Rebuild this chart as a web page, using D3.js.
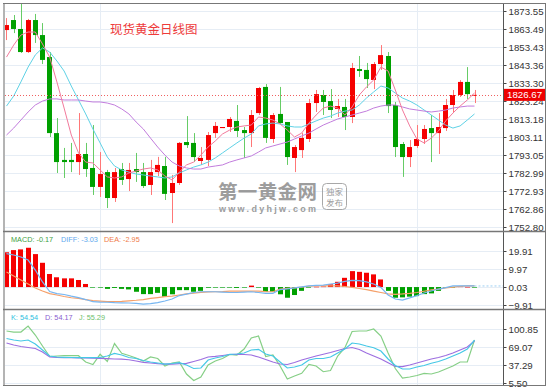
<!DOCTYPE html>
<html>
<head>
<meta charset="utf-8">
<script src="https://cdn.jsdelivr.net/npm/d3@7"></script>
<style>
  body { margin: 0; background: #fff; }
  svg { display: block; font-family: "Liberation Sans", Arial, sans-serif; }
</style>
</head>
<body>
<div id="chart"></div>
<script>
// daily candles
const openP = [1862.9,1868.5,1863.5,1850.6,1868.5,1860.1,1847.8,1805.3,1790.3,1790.3,
  1789.1,1793.6,1785.8,1775.2,1783.5,1769.0,1785.2,1779.6,1785.2,1783.5,
  1776.3,1783.5,1786.9,1771.8,1777.4,1800.3,1799.8,1789.7,1790.3,1805.3,
  1808.1,1808.7,1812.1,1807.0,1805.3,1816.5,1831.1,1802.0,1816.0,1811.5,
  1791.4,1795.8,1802.0,1822.1,1826.6,1823.2,1818.8,1819.9,1814.3,1841.1,
  1840.6,1835.0,1843.9,1848.4,1821.0,1799.2,1791.9,1798.1,1802.0,1808.1,
  1805.3,1808.1,1821.0,1826.6,1833.9,1826.3];
const highP = [1869.6,1871.3,1878.0,1869.1,1871.9,1866.8,1850.6,1813.7,1797.0,1799.8,
  1816.5,1799.8,1809.8,1794.7,1784.7,1785.8,1788.6,1788.6,1794.2,1788.6,
  1790.3,1792.0,1792.0,1781.9,1800.3,1814.8,1805.3,1797.5,1805.9,1811.5,
  1808.7,1814.3,1821.0,1808.7,1818.2,1831.1,1832.7,1816.5,1831.1,1811.5,
  1798.6,1805.3,1824.4,1829.4,1829.4,1829.9,1824.4,1824.4,1844.5,1848.4,
  1844.5,1845.0,1854.5,1850.6,1822.7,1800.3,1801.4,1809.8,1809.8,1815.4,
  1816.5,1824.4,1829.4,1834.9,1842.2,1829.4];
const lowP = [1857.3,1861.2,1850.1,1850.1,1855.7,1843.9,1803.1,1783.0,1780.2,1783.5,
  1781.9,1780.8,1770.7,1769.6,1763.4,1766.8,1776.3,1772.9,1778.0,1774.6,
  1770.7,1781.3,1767.9,1755.0,1776.3,1797.0,1789.1,1787.5,1786.9,1802.6,
  1808.1,1805.9,1803.1,1791.4,1797.5,1815.4,1799.8,1799.8,1810.4,1787.5,
  1783.5,1791.4,1800.3,1817.1,1815.4,1813.7,1814.3,1807.0,1810.9,1836.7,
  1830.5,1829.9,1840.6,1816.5,1791.9,1780.8,1786.3,1797.0,1799.2,1789.1,
  1793.6,1806.5,1816.5,1825.5,1824.4,1822.1];
const closeP = [1865.7,1863.5,1850.6,1868.5,1860.1,1846.2,1805.3,1789.1,1789.1,1789.1,
  1793.6,1785.2,1775.2,1782.4,1769.0,1783.5,1779.1,1784.7,1783.5,1775.7,
  1783.5,1787.5,1771.3,1777.4,1799.8,1798.6,1791.9,1791.4,1804.2,1809.3,
  1808.7,1813.2,1806.5,1805.3,1815.4,1830.5,1802.6,1815.4,1810.9,1791.9,
  1797.5,1802.6,1822.1,1827.1,1822.7,1818.2,1820.4,1814.3,1841.7,1840.0,
  1835.5,1843.9,1848.9,1820.4,1797.5,1791.9,1797.5,1802.0,1807.6,1805.3,
  1808.7,1821.0,1826.6,1833.9,1827.1,1826.67];

// moving averages (pink, cyan, purple)
const maPink = [1847.8,1854.5,1860.1,1861.8,1861.8,1855.1,1847.8,1833.9,1819.3,1804.2,
  1794.2,1789.1,1788.6,1784.7,1780.8,1780.2,1780.8,1783.0,1784.1,1785.2,
  1785.8,1784.7,1781.3,1779.1,1783.5,1787.5,1789.1,1793.0,1797.5,1800.9,
  1804.8,1807.0,1808.7,1809.3,1809.8,1814.3,1813.7,1812.6,1810.4,1807.0,
  1803.1,1805.3,1810.9,1815.4,1819.3,1820.4,1819.3,1815.4,1819.9,1826.6,
  1831.1,1835.0,1842.2,1840.0,1829.4,1818.2,1809.3,1802.0,1799.8,1802.5,
  1806.5,1812.1,1816.5,1820.4,1823.8,1827.7];
const maCyan = [1820.4,1826.0,1833.9,1842.2,1849.0,1852.9,1850.6,1845.6,1840.0,1831.6,
  1823.8,1816.0,1807.6,1799.8,1791.9,1786.9,1784.7,1783.5,1782.4,1781.9,
  1781.3,1780.8,1780.2,1780.8,1783.0,1784.7,1786.3,1787.5,1789.1,1791.4,
  1794.2,1797.0,1799.8,1802.5,1804.8,1809.3,1810.4,1810.9,1810.4,1809.3,
  1808.7,1808.7,1810.4,1812.1,1813.7,1814.8,1816.5,1817.6,1818.2,1821.0,
  1824.9,1828.3,1831.6,1830.5,1827.7,1824.9,1823.2,1821.0,1818.2,1815.4,
  1812.6,1809.8,1808.1,1809.3,1812.6,1816.0];
const maPurple = [1804.2,1808.1,1812.6,1817.1,1821.0,1823.2,1824.4,1824.4,1823.8,1823.8,
  1823.8,1823.2,1822.7,1822.7,1822.1,1821.0,1818.8,1816.0,1811.5,1807.6,
  1802.5,1797.5,1793.0,1789.1,1786.9,1785.8,1785.2,1785.2,1786.3,1786.9,
  1787.5,1789.1,1790.3,1791.4,1792.5,1794.7,1797.0,1798.1,1799.2,1800.3,
  1802.0,1803.7,1805.3,1807.6,1809.8,1811.5,1813.2,1814.3,1815.4,1816.5,
  1817.6,1819.3,1820.4,1821.0,1821.0,1819.9,1818.8,1818.2,1817.6,1817.1,
  1817.6,1818.2,1819.3,1819.9,1820.4,1820.4];

// MACD panel
const macdHist = [19.2,20.4,20.8,21.7,18.2,13.4,7.2,5.4,4.8,4.8,
  3.9,1.7,-0.2,-0.3,-1.0,-0.5,-1.0,-1.3,-2.6,-3.9,
  -3.9,-3.2,-5.3,-4.0,-1.7,-1.7,-2.6,-2.1,-0.4,-0.2,
  -0.2,-0.2,-0.5,-0.3,0.8,-0.3,-2.6,-2.6,-4.0,-5.9,
  -4.4,-2.1,-0.2,0.2,0.3,1.5,2.9,5.1,8.8,8.4,
  7.9,7.0,4.2,-2.1,-5.9,-5.7,-5.3,-5.0,-3.9,-3.5,
  -2.1,-0.3,-0.2,0.3,0.1,-0.17];
const diffLine = [18.5,17.7,16.6,14.9,9.4,2.8,-2.5,-3.6,-4.1,-5.0,
  -5.8,-6.9,-8.1,-8.3,-8.4,-8.6,-8.7,-8.8,-9.0,-9.4,
  -9.1,-8.6,-7.7,-6.6,-4.7,-3.9,-3.0,-2.6,-2.6,-2.6,
  -2.8,-3.0,-3.0,-2.8,-2.6,-3.0,-3.5,-3.5,-1.4,-1.0,
  -0.5,0.1,0.7,0.9,1.1,1.7,2.2,3.1,3.7,3.6,
  2.9,1.7,-0.2,-4.4,-6.6,-7.2,-6.0,-4.7,-3.3,-2.2,
  -1.1,-0.3,0.6,0.7,0.7,0.6];
const deaLine = [8.3,6.1,3.9,1.7,-0.5,-2.2,-3.6,-4.4,-5.2,-5.9,
  -6.3,-6.9,-7.5,-7.8,-8.1,-8.1,-7.9,-7.6,-7.3,-6.9,
  -6.3,-5.8,-5.3,-5.0,-4.4,-3.8,-3.3,-2.9,-2.7,-2.6,
  -2.5,-2.3,-2.3,-2.2,-2.2,-2.3,-2.5,-2.6,-1.1,-0.7,
  -0.4,0.0,0.5,0.6,0.7,0.7,0.7,0.3,-0.2,-0.8,
  -1.4,-2.2,-3.0,-3.8,-4.0,-3.8,-3.5,-3.0,-2.3,-1.6,
  -1.1,-0.5,0.0,0.4,0.7,0.7];

// KDJ panel
const kLine = [84.1,81.4,79.7,81.4,74.4,63.8,53.2,51.4,50.9,50.5,
  50.2,50.2,50.2,50.5,53.2,57.6,54.9,50.5,48.8,45.2,
  42.6,40.8,39.0,39.9,41.3,37.3,31.1,32.0,46.1,49.6,
  52.3,56.2,56.7,58.5,63.8,65.0,56.7,53.2,42.6,32.0,
  33.7,37.3,46.1,48.8,48.8,51.4,58.5,65.5,76.1,74.4,
  70.8,67.8,62.0,47.9,36.4,30.2,30.2,33.7,36.4,40.3,
  43.5,47.9,53.2,58.5,65.5,81.4];
const dLine = [76.1,72.6,69.9,68.2,66.4,60.2,51.4,50.5,50.3,50.2,
  50.0,49.6,49.5,49.1,48.6,47.9,47.5,46.6,44.3,41.9,
  40.8,39.6,38.7,39.0,39.6,40.3,43.5,47.0,51.4,52.6,
  54.1,55.8,56.2,55.8,54.9,51.4,47.0,42.6,39.0,38.2,
  41.7,46.1,49.6,53.2,56.2,59.3,62.9,66.4,68.2,64.6,
  58.5,53.2,47.9,41.3,34.6,34.3,37.3,40.8,44.3,47.9,
  50.5,54.1,58.5,63.8,69.1,79.7];
const jLine = [97.3,95.5,95.5,106.1,90.2,70.8,52.3,53.2,53.7,53.7,
  53.7,42.6,38.2,56.2,43.5,75.2,57.9,54.1,49.6,44.3,
  51.4,48.8,35.5,40.8,42.6,21.4,9.9,16.1,37.3,44.3,
  48.8,55.8,54.9,65.5,84.9,88.5,52.3,54.9,35.5,12.6,
  17.9,22.6,38.2,35.5,25.4,27.6,53.2,67.8,96.4,97.3,
  97.3,100.8,88.5,58.5,31.1,14.3,16.1,18.7,22.6,21.4,
  24.9,30.2,35.5,42.6,42.6,81.4];

const priceTicks = [1752.80,1762.86,1772.93,1782.99,1793.05,1803.11,1813.18,1823.24,1833.30,1843.36,1853.43,1863.49,1873.55];
const macdTicks = [-9.91,0.03,9.97,19.91];
const kdjTicks = [5.50,37.29,69.07,100.85];
const monthStarts = [13, 57];
const lastPrice = 1826.67;
const macdLegend = ["MACD: -0.17", "DIFF: -3.03", "DEA: -2.95"];
const kdjLegend = ["K: 54.54", "D: 54.17", "J: 55.29"];

const W = 550, H = 387;
const axisX = 503;
const RED = "#f50000", GREEN = "#00a000";

let svg = d3.select("#chart").append("svg")
  .attr("width", W).attr("height", H);

let n = closeP.length;
let x = d3.scaleBand().domain(d3.range(n)).range([2.9, 478.1])
  .paddingInner(0.3).paddingOuter(0.15);
const cx = i => x(i) + x.bandwidth() / 2;

let y = d3.scaleLinear().domain([1752.80, 1873.55]).range([227, 11]);
let ym = d3.scaleLinear().domain([-9.91, 19.91]).range([305, 251]);
let yk = d3.scaleLinear().domain([5.50, 100.85]).range([383, 329]);

// clip each panel
let defs = svg.append("defs");
[["clipMain", 4, 231], ["clipMacd", 232, 309], ["clipKdj", 310, 385]].forEach(c => {
  defs.append("clipPath").attr("id", c[0]).append("rect")
    .attr("x", 5).attr("y", c[1]).attr("width", axisX - 5).attr("height", c[2] - c[1]);
});

// grid
function hGrid(scale, ticks) {
  svg.append("g").selectAll("line").data(ticks).join("line")
    .attr("x1", 5).attr("x2", axisX)
    .attr("y1", d => Math.round(scale(d)) + 0.5).attr("y2", d => Math.round(scale(d)) + 0.5)
    .attr("stroke", "#e6edf5").attr("stroke-width", 1);
}
hGrid(y, priceTicks);
hGrid(ym, macdTicks);
hGrid(yk, kdjTicks);
svg.append("g").selectAll("line").data(monthStarts).join("line")
  .attr("x1", d => Math.round(cx(d)) + 0.5).attr("x2", d => Math.round(cx(d)) + 0.5)
  .attr("y1", 4).attr("y2", 385)
  .attr("stroke", "#e6edf5");

// title
svg.append("text").attr("x", 110).attr("y", 33.5)
  .attr("font-family", "'Noto Sans CJK SC', sans-serif").attr("font-size", 12.5)
  .attr("fill", "#ee3b3b").text("现货黄金日线图");

// watermark
let wm = svg.append("g").attr("fill", "#8c8c8c").attr("opacity", 0.85);
wm.append("text").attr("x", 218).attr("y", 199)
  .attr("font-family", "'Noto Sans CJK SC', sans-serif").attr("font-weight", "bold")
  .attr("font-size", 19.5).attr("textLength", 99).attr("lengthAdjust", "spacing")
  .text("第一黄金网");
wm.append("text").attr("x", 219).attr("y", 212)
  .attr("font-family", "'Liberation Sans', sans-serif").attr("font-weight", "bold")
  .attr("font-size", 9).attr("textLength", 97).attr("lengthAdjust", "spacing")
  .text("www.dyhjw.com");
wm.append("rect").attr("x", 322.5).attr("y", 183.5).attr("width", 24).attr("height", 26)
  .attr("rx", 4).attr("fill", "none").attr("stroke", "#9a9a9a");
wm.append("text").attr("x", 334.5).attr("y", 195).attr("text-anchor", "middle")
  .attr("font-family", "'Noto Sans CJK SC', sans-serif").attr("font-size", 8.5).text("独家");
wm.append("text").attr("x", 334.5).attr("y", 206).attr("text-anchor", "middle")
  .attr("font-family", "'Noto Sans CJK SC', sans-serif").attr("font-size", 8.5).text("发布");

// candles
let main = svg.append("g").attr("clip-path", "url(#clipMain)");
let idx = d3.range(n);
const up = i => closeP[i] >= openP[i];

main.append("g").selectAll("line").data(idx).join("line")
  .attr("x1", i => Math.round(cx(i)) + 0.5).attr("x2", i => Math.round(cx(i)) + 0.5)
  .attr("y1", i => y(highP[i])).attr("y2", i => y(lowP[i]))
  .attr("stroke", i => up(i) ? "#f77" : "#6c6");

main.append("g").selectAll("rect").data(idx).join("rect")
  .attr("x", i => Math.round(x(i)))
  .attr("width", 5)
  .attr("y", i => y(Math.max(openP[i], closeP[i])))
  .attr("height", i => Math.max(1, Math.abs(y(openP[i]) - y(closeP[i]))))
  .attr("fill", i => up(i) ? RED : GREEN);

// moving averages
[[maCyan, "#5fd2e6"], [maPurple, "#c27ddd"], [maPink, "#f27a9c"]].forEach(m => {
  main.append("path").datum(m[0])
    .attr("fill", "none").attr("stroke", m[1]).attr("stroke-width", 1)
    .attr("d", d3.line().x((d, i) => cx(i)).y(d => y(d)));
});

// last price line
main.append("line").attr("x1", 5).attr("x2", axisX)
  .attr("y1", Math.round(y(lastPrice)) + 0.5).attr("y2", Math.round(y(lastPrice)) + 0.5)
  .attr("stroke", "#f06060").attr("stroke-dasharray", "1,2");

// MACD
let macd = svg.append("g").attr("clip-path", "url(#clipMacd)");
macd.append("g").selectAll("rect").data(macdHist).join("rect")
  .attr("x", (d, i) => Math.round(x(i)))
  .attr("width", 5)
  .attr("y", d => Math.min(ym(d), ym(0)))
  .attr("height", d => Math.max(0.6, Math.abs(ym(d) - ym(0))))
  .attr("fill", d => d >= 0 ? RED : GREEN);
[[deaLine, "#f5a06a"], [diffLine, "#76b6f2"]].forEach(m => {
  macd.append("path").datum(m[0])
    .attr("fill", "none").attr("stroke", m[1]).attr("stroke-width", 1.2)
    .attr("d", d3.line().x((d, i) => cx(i)).y(d => ym(d)));
});
macd.append("line").attr("x1", cx(n - 1)).attr("x2", axisX)
  .attr("y1", ym(diffLine[n - 1])).attr("y2", ym(diffLine[n - 1]))
  .attr("stroke", "#9ccff2").attr("stroke-dasharray", "2,2");

// KDJ
let kdj = svg.append("g").attr("clip-path", "url(#clipKdj)");
[[jLine, "#86cf86"], [dLine, "#9d6fe0"], [kLine, "#45c8e6"]].forEach(m => {
  kdj.append("path").datum(m[0])
    .attr("fill", "none").attr("stroke", m[1]).attr("stroke-width", 1.2)
    .attr("d", d3.line().x((d, i) => cx(i)).y(d => yk(d)));
});

// legends
function legend(items, colors, xs, yPos) {
  svg.append("g").selectAll("text").data(items).join("text")
    .attr("x", (d, i) => xs[i]).attr("y", yPos)
    .attr("font-size", 7.3).attr("fill", (d, i) => colors[i])
    .text(d => d);
}
legend(macdLegend, ["#3f9f3f", "#62a9ee", "#f07d4a"], [11, 61, 104], 241.5);
legend(kdjLegend, ["#2fbfe0", "#8a5fd0", "#6dbf6d"], [11, 45, 79], 320);

// axes
function axis(scale, ticks) {
  let g = svg.append("g").attr("transform", `translate(${axisX + 0.5},0)`)
    .call(d3.axisRight(scale).tickValues(ticks).tickFormat(d3.format(".2f"))
      .tickSize(3).tickPadding(2));
  g.select(".domain").remove();
  g.selectAll(".tick line").attr("stroke", "#444");
  g.selectAll(".tick text").attr("font-size", 9.7).attr("fill", "#333")
    .attr("font-family", "'Liberation Sans', Arial, sans-serif");
}
axis(y, priceTicks);
axis(ym, macdTicks);
axis(yk, kdjTicks);

// last price tag
svg.append("rect").attr("x", axisX).attr("y", y(lastPrice) - 6).attr("width", 43).attr("height", 12)
  .attr("fill", "#ee0000");
svg.append("text").attr("x", axisX + 4).attr("y", y(lastPrice) + 3.5)
  .attr("font-size", 9.7).attr("fill", "#fff").text(lastPrice.toFixed(2));

// frame
let frame = svg.append("g").attr("fill", "none");
frame.append("line").attr("x1", 4).attr("x2", 4).attr("y1", 3).attr("y2", 386)
  .attr("stroke", "#b4b4b4").attr("stroke-width", 2);
frame.append("line").attr("x1", axisX + 0.5).attr("x2", axisX + 0.5).attr("y1", 3).attr("y2", 386)
  .attr("stroke", "#555");
frame.append("line").attr("x1", 545.5).attr("x2", 545.5).attr("y1", 3).attr("y2", 386)
  .attr("stroke", "#777");
[3.5, 231.5, 309.5, 385.5].forEach(v => {
  frame.append("line").attr("x1", 3).attr("x2", 546).attr("y1", v).attr("y2", v)
    .attr("stroke", "#777").attr("stroke-width", v === 3.5 || v === 385.5 ? 1 : 1.3);
});
</script>
</body>
</html>
